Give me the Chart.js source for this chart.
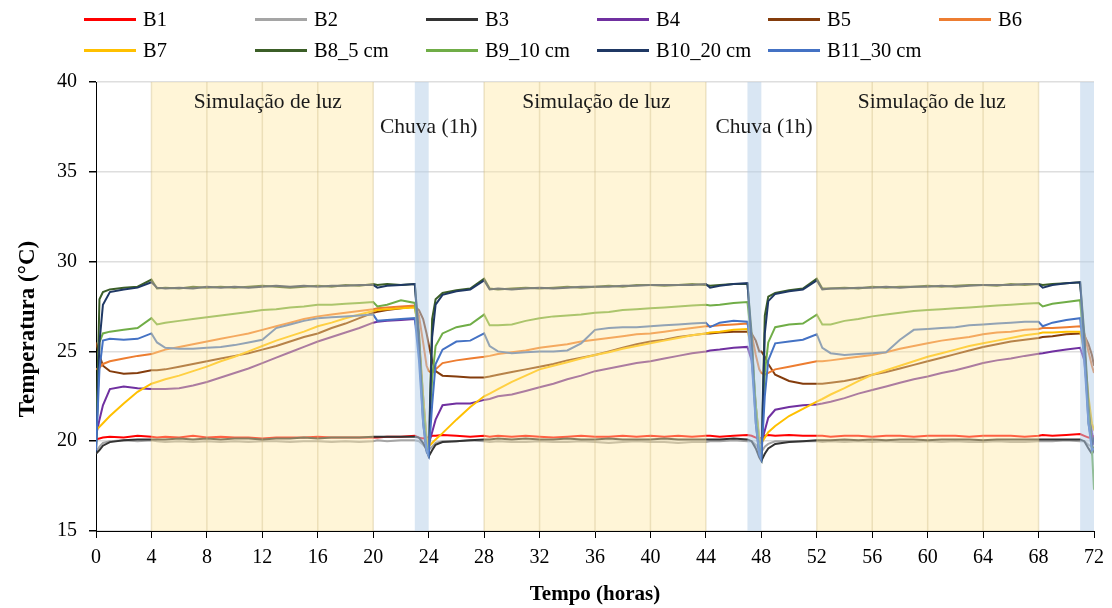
<!DOCTYPE html>
<html>
<head>
<meta charset="utf-8">
<script src="https://cdn.jsdelivr.net/npm/chart.js@4.4.1/dist/chart.umd.min.js"></script>
<style>
  body { margin: 0; background: #fff; font-family: "Liberation Serif", "Times New Roman", serif; }
  #wrap { position: relative; width: 1112px; height: 608px; }
  #legend { position: absolute; left: 0; top: 0; width: 1112px; height: 70px; }
  .item { position: absolute; display: flex; align-items: center; height: 22px; font-size: 20.5px; color: #000; white-space: nowrap; }
  .item i { display: inline-block; width: 52px; height: 3px; margin-right: 7px; }
</style>
</head>
<body>
<div id="wrap">
  <canvas id="chart" width="1112" height="608"></canvas>
  <div id="legend"></div>
</div>
<script>
// time axis (hours) shared by every probe
const hours = [
  0, 0.25, 0.5, 1, 2, 3, 4, 4.4, 5, 6, 7, 8, 9, 10, 11, 12, 13, 14, 15, 16, 17, 18, 19, 20, 20.3, 21, 22, 23, 23.3, 23.6, 23.85,
  24, 24.25, 24.5, 25, 26, 27, 28, 28.4, 29, 30, 31, 32, 33, 34, 35, 36, 37, 38, 39, 40, 41, 42, 43, 44, 44.3, 45, 46, 47, 47.3, 47.6, 47.85,
  48, 48.25, 48.5, 49, 50, 51, 52, 52.4, 53, 54, 55, 56, 57, 58, 59, 60, 61, 62, 63, 64, 65, 66, 67, 68, 68.3, 69, 70, 71, 71.3, 71.6, 71.85,
  72
]

const names = ['B1', 'B2', 'B3', 'B4', 'B5', 'B6', 'B7', 'B8_5 cm', 'B9_10 cm', 'B10_20 cm', 'B11_30 cm']
const colors = ['#ff0000', '#a5a5a5', '#333333', '#7030a0', '#843c0c', '#ed7d31', '#ffc000', '#3b5e27', '#70ad47', '#1f3864', '#4472c4']

const b1 = [
  20.1, 20.15, 20.2, 20.25, 20.2, 20.3, 20.25, 20.2, 20.25, 20.2, 20.3, 20.2, 20.25, 20.2, 20.2, 20.15, 20.2, 20.2, 20.2, 20.25, 20.2, 20.2, 20.2, 20.2, 20.2, 20.25, 20.25, 20.3, 20.2, 20.15, 20.2,
  20.2, 20.3, 20.3, 20.35, 20.3, 20.25, 20.3, 20.25, 20.3, 20.25, 20.3, 20.25, 20.2, 20.25, 20.3, 20.25, 20.25, 20.3, 20.25, 20.3, 20.25, 20.3, 20.25, 20.3, 20.3, 20.25, 20.3, 20.35, 20.3, 20.2, 20.15,
  20.2, 20.3, 20.35, 20.3, 20.35, 20.3, 20.3, 20.3, 20.25, 20.3, 20.3, 20.25, 20.3, 20.3, 20.25, 20.3, 20.3, 20.3, 20.25, 20.3, 20.3, 20.3, 20.25, 20.3, 20.35, 20.3, 20.35, 20.4, 20.3, 20.2, 20.2,
  20.3
]
const b2 = [
  19.4, 19.7, 19.9, 20.0, 20.05, 20.0, 20.05, 20.0, 19.95, 20.0, 19.95, 20.0, 19.95, 20.0, 19.95, 20.0, 20.0, 19.95, 20.0, 20.0, 19.95, 20.0, 19.95, 20.0, 20.05, 20.0, 20.05, 20.05, 20.0, 19.8, 19.6,
  19.5, 19.7, 19.9, 20.0, 20.0, 20.05, 20.0, 19.95, 20.0, 19.95, 19.95, 20.0, 19.95, 19.95, 20.0, 19.95, 19.9, 19.95, 20.0, 19.95, 19.95, 19.9, 19.95, 19.95, 20.0, 20.0, 20.05, 20.0, 20.0, 19.8, 19.6,
  19.4, 19.7, 19.85, 20.0, 20.0, 20.0, 20.0, 19.95, 20.0, 19.95, 20.0, 19.95, 20.0, 19.95, 19.95, 20.0, 19.95, 20.0, 19.95, 19.95, 20.0, 19.95, 19.95, 20.0, 20.0, 20.0, 20.05, 20.0, 20.0, 19.8, 19.7,
  20.0
]
const b3 = [
  19.3, 19.5, 19.75, 19.95, 20.05, 20.1, 20.1, 20.1, 20.1, 20.15, 20.1, 20.15, 20.1, 20.15, 20.15, 20.1, 20.15, 20.15, 20.2, 20.15, 20.2, 20.2, 20.2, 20.25, 20.25, 20.25, 20.25, 20.25, 20.2, 19.9, 19.5,
  19.15, 19.5, 19.8, 19.95, 20.0, 20.05, 20.1, 20.1, 20.15, 20.1, 20.15, 20.1, 20.1, 20.15, 20.1, 20.1, 20.15, 20.1, 20.1, 20.1, 20.15, 20.1, 20.1, 20.1, 20.1, 20.1, 20.15, 20.1, 20.0, 19.6, 19.1,
  18.9, 19.3, 19.6, 19.85, 19.95, 20.0, 20.05, 20.05, 20.05, 20.1, 20.05, 20.1, 20.05, 20.1, 20.1, 20.05, 20.1, 20.1, 20.1, 20.05, 20.1, 20.1, 20.1, 20.1, 20.1, 20.1, 20.1, 20.1, 20.0, 19.6, 19.3,
  19.5
]
const b4 = [
  20.3, 21.2, 22.0, 22.9, 23.05, 22.95, 22.9, 22.9, 22.9, 22.95, 23.1, 23.3, 23.55, 23.8, 24.05, 24.35, 24.65, 24.95, 25.25, 25.55, 25.8, 26.05, 26.3, 26.6, 26.65, 26.7, 26.75, 26.8, 25.5, 22.5, 20.0,
  19.8, 20.5, 21.2, 22.0, 22.1, 22.1, 22.3, 22.35, 22.5, 22.6, 22.8, 23.0, 23.2, 23.45, 23.65, 23.9, 24.05, 24.2, 24.35, 24.45, 24.6, 24.75, 24.9, 25.0, 25.05, 25.1, 25.2, 25.25, 24.5, 22.0, 20.0,
  19.9, 20.6, 21.3, 21.75, 21.9, 22.0, 22.05, 22.1, 22.2, 22.4, 22.65, 22.85, 23.05, 23.25, 23.45, 23.6, 23.8, 23.95, 24.15, 24.35, 24.5, 24.6, 24.75, 24.87, 24.9, 25.0, 25.1, 25.2, 24.5, 22.0, 20.5,
  19.8
]
const b5 = [
  25.5, 24.8, 24.2, 23.9, 23.75, 23.8, 23.95, 23.95, 24.0, 24.15, 24.3, 24.45, 24.6, 24.75, 24.9, 25.1, 25.3, 25.55, 25.8, 26.0, 26.3, 26.55, 26.85, 27.15, 27.2, 27.3, 27.4, 27.5, 27.3, 26.8, 26.0,
  25.4, 24.5, 23.9, 23.65, 23.6, 23.55, 23.55, 23.6, 23.7, 23.85, 24.0, 24.15, 24.3, 24.5, 24.65, 24.8, 25.0, 25.2, 25.4, 25.55, 25.65, 25.8, 25.9, 26.0, 26.0, 26.05, 26.1, 26.1, 26.0, 25.6, 25.0,
  25.0, 24.7, 24.3, 23.7, 23.35, 23.2, 23.2, 23.2, 23.25, 23.35, 23.5, 23.7, 23.85, 24.05, 24.25, 24.45, 24.65, 24.85, 25.05, 25.25, 25.4, 25.55, 25.65, 25.75, 25.8, 25.85, 25.95, 26.0, 25.9, 25.4, 24.8,
  24.2
]
const b6 = [
  24.0, 24.1, 24.3, 24.45, 24.6, 24.75, 24.85, 24.95, 25.1, 25.25, 25.4, 25.55, 25.7, 25.85, 26.0, 26.2, 26.4, 26.6, 26.8, 26.95, 27.05, 27.15, 27.25, 27.35, 27.4, 27.45, 27.5, 27.55, 27.0, 25.5, 24.2,
  23.9, 23.8, 24.0, 24.35, 24.5, 24.6, 24.7, 24.75, 24.85, 24.95, 25.05, 25.2, 25.3, 25.4, 25.55, 25.65, 25.75, 25.85, 25.95, 26.0, 26.1, 26.2, 26.3, 26.4, 26.4, 26.45, 26.5, 26.55, 26.0, 24.8, 24.0,
  23.8, 23.7, 23.8, 24.0, 24.15, 24.3, 24.45, 24.45, 24.5, 24.6, 24.7, 24.8, 24.95, 25.15, 25.3, 25.45, 25.6, 25.7, 25.8, 25.95, 26.05, 26.1, 26.2, 26.25, 26.3, 26.3, 26.35, 26.4, 26.0, 25.0, 24.2,
  23.8
]
const b7 = [
  20.6, 20.8, 21.0, 21.4, 22.1, 22.75, 23.2, 23.3, 23.45, 23.65, 23.9, 24.15, 24.45, 24.7, 25.0, 25.3, 25.6, 25.85, 26.1, 26.4, 26.6, 26.85, 27.05, 27.25, 27.3, 27.35, 27.4, 27.45, 26.0, 22.5, 20.2,
  19.7, 19.9, 20.1, 20.45, 21.2, 21.9, 22.5, 22.65, 22.9, 23.3, 23.65, 24.0, 24.2, 24.4, 24.6, 24.8, 24.95, 25.15, 25.3, 25.45, 25.6, 25.75, 25.9, 26.0, 26.05, 26.1, 26.2, 26.25, 25.0, 22.0, 20.2,
  19.9, 20.2, 20.5, 20.85, 21.4, 21.8, 22.2, 22.35, 22.6, 22.95, 23.35, 23.7, 23.95, 24.2, 24.45, 24.7, 24.9, 25.1, 25.3, 25.45, 25.6, 25.75, 25.9, 26.0, 26.05, 26.05, 26.1, 26.1, 25.0, 22.5, 21.0,
  20.6
]
const b8 = [
  19.8, 27.9, 28.3, 28.45, 28.55, 28.6, 29.0, 28.5, 28.55, 28.5, 28.6, 28.55, 28.6, 28.55, 28.6, 28.65, 28.6, 28.55, 28.6, 28.65, 28.6, 28.7, 28.65, 28.75, 28.7, 28.75, 28.7, 28.75, 26.0, 21.5, 19.5,
  19.3, 26.8, 27.9, 28.25, 28.4, 28.5, 29.05, 28.5, 28.45, 28.5, 28.55, 28.5, 28.55, 28.6, 28.55, 28.6, 28.65, 28.6, 28.7, 28.7, 28.65, 28.7, 28.75, 28.7, 28.65, 28.7, 28.75, 28.75, 26.0, 21.5, 19.3,
  19.0, 27.0, 28.05, 28.25, 28.4, 28.5, 29.05, 28.5, 28.5, 28.55, 28.5, 28.6, 28.55, 28.6, 28.6, 28.65, 28.6, 28.65, 28.7, 28.7, 28.65, 28.75, 28.7, 28.75, 28.7, 28.75, 28.8, 28.85, 26.0, 22.0, 19.8,
  19.5
]
const b9 = [
  19.6, 25.5, 26.0, 26.1, 26.2, 26.3, 26.85, 26.5, 26.6, 26.7, 26.8, 26.9, 27.0, 27.1, 27.2, 27.3, 27.35, 27.45, 27.5, 27.6, 27.6, 27.65, 27.7, 27.75, 27.5, 27.6, 27.85, 27.7, 25.5, 22.0, 19.8,
  19.4, 23.5, 25.3, 26.0, 26.35, 26.5, 27.05, 26.45, 26.45, 26.5, 26.7, 26.85, 26.95, 27.0, 27.05, 27.15, 27.2, 27.3, 27.35, 27.4, 27.45, 27.5, 27.55, 27.6, 27.55, 27.6, 27.7, 27.75, 25.5, 22.0, 19.6,
  19.3, 23.8, 25.5, 26.35, 26.5, 26.55, 27.05, 26.5, 26.5, 26.7, 26.8, 26.95, 27.05, 27.15, 27.25, 27.3, 27.35, 27.4, 27.45, 27.5, 27.55, 27.6, 27.65, 27.7, 27.5, 27.65, 27.75, 27.85, 25.0, 21.5, 19.5,
  17.3
]
const b10 = [
  19.4, 25.5, 27.6, 28.3, 28.45, 28.55, 28.85, 28.55, 28.5, 28.55, 28.5, 28.6, 28.55, 28.6, 28.55, 28.6, 28.65, 28.6, 28.65, 28.6, 28.65, 28.65, 28.7, 28.7, 28.55, 28.65, 28.7, 28.75, 25.5, 21.0, 19.4,
  19.2, 25.8, 27.6, 28.15, 28.35, 28.45, 28.95, 28.45, 28.5, 28.45, 28.5, 28.55, 28.5, 28.55, 28.6, 28.6, 28.6, 28.65, 28.65, 28.7, 28.7, 28.7, 28.7, 28.75, 28.55, 28.65, 28.75, 28.8, 25.5, 21.0, 19.2,
  19.0, 26.0, 27.8, 28.2, 28.35, 28.45, 28.95, 28.45, 28.5, 28.5, 28.55, 28.55, 28.6, 28.55, 28.6, 28.6, 28.65, 28.6, 28.65, 28.7, 28.7, 28.7, 28.75, 28.75, 28.55, 28.7, 28.8, 28.85, 25.5, 21.0, 19.8,
  20.2
]
const b11 = [
  19.5, 24.0, 25.6, 25.7, 25.65, 25.7, 26.0, 25.5, 25.2, 25.15, 25.15, 25.2, 25.25, 25.35, 25.5, 25.65, 26.3, 26.5, 26.7, 26.85, 26.9, 26.95, 27.0, 27.05, 26.7, 26.75, 26.8, 26.85, 24.5, 21.0, 19.5,
  19.2, 22.0, 24.3, 25.1, 25.55, 25.6, 26.0, 25.3, 25.0, 24.9, 24.95, 25.0, 25.0, 25.05, 25.45, 26.2, 26.3, 26.35, 26.35, 26.4, 26.45, 26.5, 26.55, 26.6, 26.35, 26.6, 26.7, 26.65, 24.5, 21.0, 19.3,
  19.0, 22.5, 24.5, 25.45, 25.55, 25.65, 25.95, 25.2, 24.9, 24.8, 24.85, 24.9, 24.95, 25.65, 26.2, 26.25, 26.3, 26.35, 26.45, 26.5, 26.55, 26.6, 26.65, 26.65, 26.4, 26.6, 26.75, 26.85, 24.5, 21.0, 19.5,
  19.6
]
const series = [b1, b2, b3, b4, b5, b6, b7, b8, b9, b10, b11]

// shaded periods (hours)
const lightBands = [[4, 20], [28, 44], [52, 68]]
const rainBands = [[23, 24], [47, 48], [71, 72]]

// annotation texts, anchored in data units
const noteText = ['Simulação de luz', 'Simulação de luz', 'Simulação de luz', 'Chuva (1h)', 'Chuva (1h)']
const noteHour = [12.4, 36.1, 60.3, 24, 48.2]
const noteTemp = [38.85, 38.85, 38.85, 37.45, 37.45]

const yTicks = [15, 20, 25, 30, 35, 40]

const FONT = '"Liberation Serif", "Times New Roman", serif'

const bands = {
  id: 'bands',
  afterDatasetsDraw(chart) {
    const { ctx, chartArea: a, scales: { x } } = chart
    ctx.save()
    ctx.beginPath(); ctx.rect(a.left, a.top, a.width, a.height); ctx.clip()
    lightBands.forEach(([s, e]) => {
      const l = x.getPixelForValue(s), r = x.getPixelForValue(e)
      ctx.fillStyle = 'rgba(255,230,160,0.42)'
      ctx.fillRect(l, a.top, r - l, a.height)
      // column edges every 4 h, like the original column series
      ctx.strokeStyle = 'rgba(200,180,125,0.35)'
      ctx.lineWidth = 1.5
      for (let h = s; h <= e; h += 4) {
        const px = x.getPixelForValue(h)
        ctx.beginPath(); ctx.moveTo(px, a.top); ctx.lineTo(px, a.bottom); ctx.stroke()
      }
    })
    rainBands.forEach(([s, e]) => {
      const l = x.getPixelForValue(s), r = x.getPixelForValue(e)
      ctx.fillStyle = 'rgba(180,205,232,0.5)'
      ctx.fillRect(l, a.top, r - l, a.height)
    })
    ctx.restore()
  },
  afterDraw(chart) {
    const { ctx, chartArea: a, scales: { x, y } } = chart
    ctx.save()
    ctx.fillStyle = '#1a1a1a'
    ctx.font = '21.5px ' + FONT
    ctx.textAlign = 'center'
    ctx.textBaseline = 'middle'
    noteText.forEach((t, i) => ctx.fillText(t, x.getPixelForValue(noteHour[i]), y.getPixelForValue(noteTemp[i])))
    // axis titles
    ctx.fillStyle = '#000'
    ctx.font = 'bold 21px ' + FONT
    ctx.fillText('Tempo (horas)', (a.left + a.right) / 2, 595)
    ctx.font = 'bold 23px ' + FONT
    ctx.translate(28, 329)
    ctx.rotate(-Math.PI / 2)
    ctx.fillText('Temperatura (°C)', 0, 0)
    ctx.restore()
  }
}

new Chart(document.getElementById('chart'), {
  type: 'line',
  data: {
    datasets: series.map((vals, i) => ({
      label: names[i],
      data: hours.map((h, k) => ({ x: h, y: vals[k] })),
      borderColor: colors[i],
      backgroundColor: colors[i],
      borderWidth: 2,
      pointRadius: 0,
      tension: 0,
      order: series.length - i
    }))
  },
  options: {
    responsive: false,
    animation: false,
    devicePixelRatio: 1,
    layout: { padding: { top: 82, right: 16, left: 0, bottom: 0 } },
    plugins: { legend: { display: false }, tooltip: { enabled: false } },
    scales: {
      x: {
        type: 'linear', min: 0, max: 72,
        afterFit: s => { s.height = 77 },
        ticks: { stepSize: 4, color: '#000', font: { family: FONT, size: 20 }, padding: 8, maxRotation: 0 },
        grid: { drawOnChartArea: false, tickLength: 7, tickColor: '#000' },
        border: { color: '#000', width: 1 }
      },
      y: {
        min: 15, max: 40,
        afterFit: s => { s.width = 96 },
        afterBuildTicks: s => { s.ticks = yTicks.map(v => ({ value: v })) },
        ticks: { color: '#000', font: { family: FONT, size: 20 }, padding: 12 },
        grid: { color: '#dedede', lineWidth: 1.5, tickLength: 7, tickColor: '#000' },
        border: { color: '#000', width: 1 }
      }
    }
  },
  plugins: [bands]
})

// legend: two rows of six, same layout as the source figure
const legend = document.getElementById('legend')
names.forEach((n, i) => {
  const el = document.createElement('div')
  el.className = 'item'
  el.style.left = (84 + (i % 6) * 171) + 'px'
  el.style.top = (i < 6 ? 8 : 39) + 'px'
  el.innerHTML = '<i style="background:' + colors[i] + '"></i>' + n
  legend.appendChild(el)
})
</script>
</body>
</html>
